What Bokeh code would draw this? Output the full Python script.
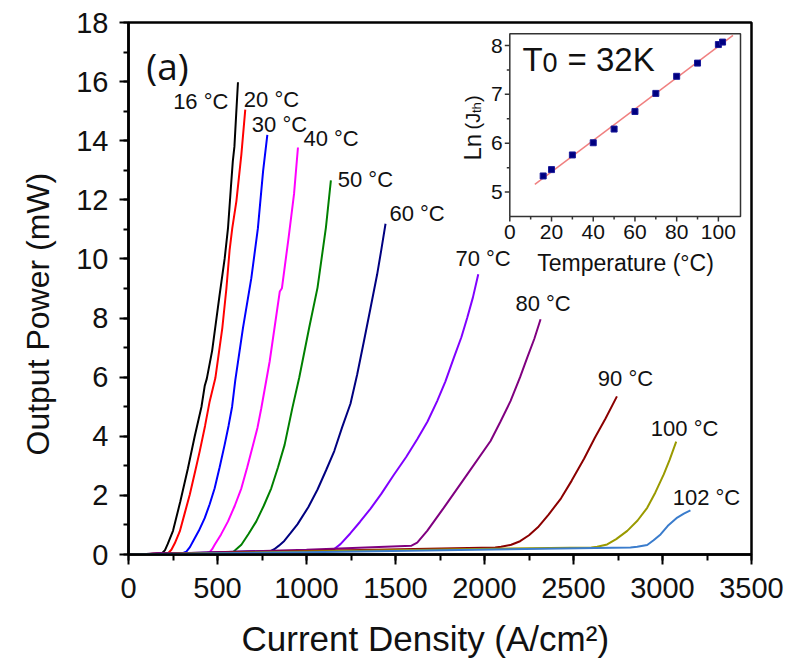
import numpy as np
from bokeh.plotting import figure
from bokeh.models import Range1d, SingleIntervalTicker, Title
from bokeh.core.properties import value
from bokeh.embed import file_html
from bokeh.resources import INLINE

# ---------------- data: L-I curves (current density in A/cm^2, output power in mW)
temps = [16, 20, 30, 40, 50, 60, 70, 80, 90, 100, 102]

j16 = [0, 100, 190, 205, 220, 250, 291, 334, 372, 410, 428, 440, 470, 512, 540, 559, 575, 586, 595, 605, 615]
p16 = [0, 0.02, 0.05, 0.15, 0.35, 0.8, 1.79, 2.92, 4.0, 5.0, 5.7, 5.95, 6.9, 8.79, 10.0, 11.04, 12.4, 13.3, 13.8, 14.9, 15.98]

j20 = [0, 120, 225, 241, 260, 288, 316, 344, 372, 400, 430, 456, 488, 527, 550, 568, 583, 606, 634, 656]
p20 = [0, 0.02, 0.06, 0.16, 0.38, 0.78, 1.4, 2.02, 2.75, 3.49, 4.35, 5.18, 5.97, 7.66, 9.0, 10.3, 11.04, 11.95, 13.53, 15.05]

j30 = [0, 150, 310, 325, 345, 362, 395, 428, 456, 484, 512, 540, 562, 582, 600, 643, 690, 727, 756, 780]
p30 = [0, 0.02, 0.06, 0.1, 0.25, 0.44, 0.8, 1.23, 1.7, 2.24, 2.95, 3.71, 4.35, 5.0, 5.9, 7.66, 9.35, 11.04, 12.96, 14.2]

j40 = [0, 200, 440, 456, 470, 484, 520, 559, 597, 634, 667, 700, 725, 746, 793, 850, 862, 900, 930, 952]
p40 = [0, 0.03, 0.05, 0.08, 0.18, 0.33, 0.68, 1.12, 1.65, 2.24, 2.95, 3.71, 4.3, 4.95, 6.53, 8.9, 9.01, 10.75, 12.2, 13.77]

j50 = [0, 250, 570, 587, 610, 634, 675, 718, 760, 802, 840, 877, 921, 959, 1015, 1062, 1109, 1137]
p50 = [0, 0.03, 0.05, 0.08, 0.2, 0.33, 0.7, 1.12, 1.65, 2.24, 2.95, 3.71, 4.97, 5.98, 7.67, 9.03, 11.06, 12.66]

j60 = [0, 300, 800, 819, 845, 875, 910, 949, 1010, 1062, 1110, 1156, 1200, 1247, 1285, 1322, 1360, 1397, 1420, 1444]
p60 = [0, 0.04, 0.12, 0.18, 0.3, 0.46, 0.72, 1.02, 1.6, 2.2, 2.85, 3.5, 4.3, 5.1, 6.1, 7.2, 8.35, 9.48, 10.3, 11.19]

j70 = [0, 400, 1130, 1154, 1191, 1247, 1300, 1360, 1420, 1491, 1560, 1622, 1680, 1734, 1780, 1828, 1870, 1903, 1935, 1965]
p70 = [0, 0.05, 0.14, 0.18, 0.35, 0.72, 1.1, 1.55, 2.05, 2.7, 3.3, 3.9, 4.5, 5.19, 5.85, 6.66, 7.35, 8.01, 8.7, 9.48]

j80 = [0, 500, 1000, 1590, 1622, 1678, 1771, 1903, 2034, 2090, 2146, 2200, 2240, 2280, 2315]
p80 = [0, 0.08, 0.16, 0.3, 0.4, 0.8, 1.58, 2.71, 3.84, 4.5, 5.19, 6.0, 6.66, 7.3, 7.96]

j90 = [0, 1000, 2060, 2093, 2150, 2200, 2250, 2300, 2360, 2430, 2490, 2560, 2620, 2680, 2744]
p90 = [0, 0.12, 0.24, 0.26, 0.33, 0.45, 0.65, 0.92, 1.35, 1.9, 2.5, 3.25, 3.95, 4.6, 5.35]

j100 = [0, 1000, 2600, 2633, 2689, 2740, 2802, 2860, 2914, 2960, 3007, 3040, 3077]
p100 = [0, 0.1, 0.24, 0.26, 0.34, 0.52, 0.8, 1.15, 1.58, 2.1, 2.71, 3.2, 3.82]

j102 = [0, 1000, 2820, 2858, 2914, 2950, 2989, 3030, 3083, 3120, 3157]
p102 = [0, 0.08, 0.24, 0.26, 0.32, 0.48, 0.68, 0.97, 1.25, 1.38, 1.49]

curves_j = [j16, j20, j30, j40, j50, j60, j70, j80, j90, j100, j102]
curves_p = [p16, p20, p30, p40, p50, p60, p70, p80, p90, p100, p102]
curve_labels = ["16 \u00b0C", "20 \u00b0C", "30 \u00b0C", "40 \u00b0C", "50 \u00b0C", "60 \u00b0C",
                "70 \u00b0C", "80 \u00b0C", "90 \u00b0C", "100 \u00b0C", "102 \u00b0C"]

# inset: ln(Jth) vs temperature
inset_temp = [16, 20, 30, 40, 50, 60, 70, 80, 90, 100, 102]
inset_lnj = [5.33, 5.46, 5.76, 6.01, 6.29, 6.65, 7.02, 7.37, 7.64, 8.02, 8.07]
fit_span = [12, 107]

x_ticks_major = 500
y_ticks_major = 2
inset_x_major = [0, 20, 40, 60, 80, 100]
inset_x_minor = [10, 30, 50, 70, 90]
inset_y_major = [5, 6, 7, 8]
inset_y_minor = [5.5, 6.5, 7.5]

# ---------------- styles / positions
colors = ["#000000", "#ff0000", "#0000ff", "#ff00ff", "#008000", "#000080",
          "#8000ff", "#800080", "#8b0000", "#9a9a00", "#3a7ccc"]
label_x = [406, 803, 848, 1138, 1331, 1621, 1992, 2329, 2792, 3124, 3247]
label_y = [15.34, 15.41, 14.56, 14.06, 12.69, 11.54, 10.0, 8.49, 5.94, 4.28, 1.93]

FONT = "Liberation Sans"
FRAME_W, FRAME_H = 623, 532
BORDER_L, BORDER_T = 128, 22
FRAME_LEFT = BORDER_L
FRAME_TOP = BORDER_T

p = figure(frame_width=FRAME_W, frame_height=FRAME_H,
           x_range=Range1d(0, 3500), y_range=Range1d(0, 18),
           output_backend="svg", toolbar_location=None, title=None,
           min_border_left=BORDER_L, min_border_top=BORDER_T,
           min_border_right=38, min_border_bottom=40)
p.background_fill_color = "white"
p.border_fill_color = "white"
p.outline_line_color = "black"
p.outline_line_width = 2.5
p.outline_line_alpha = 1.0
p.xgrid.visible = False
p.ygrid.visible = False

p.xaxis.ticker = SingleIntervalTicker(interval=x_ticks_major, num_minor_ticks=2)
p.yaxis.ticker = SingleIntervalTicker(interval=y_ticks_major, num_minor_ticks=2)
for ax in (p.xaxis, p.yaxis):
    ax.axis_line_width = 2.5
    ax.axis_line_color = "black"
    ax.major_tick_line_width = 2
    ax.minor_tick_line_width = 2
    ax.major_tick_in = 0
    ax.minor_tick_in = 0
    ax.major_label_text_font = FONT
    ax.major_label_text_font_size = "29px"
    ax.major_label_text_color = "#111111"
p.yaxis.major_tick_out = 9
p.yaxis.minor_tick_out = 5
p.yaxis.major_label_standoff = 11
p.xaxis.major_tick_out = 10
p.xaxis.minor_tick_out = 6
p.xaxis.major_label_standoff = 13

# axis titles
p.add_layout(Title(text="Current Density (A/cm\u00b2)", align="left", offset=113,
                   text_font=FONT, text_font_size="35px", text_font_style="normal",
                   text_color="#111111", standoff=33), "below")
p.add_layout(Title(text="Output Power (mW)", align="left", offset=99,
                   text_font=FONT, text_font_size="32px", text_font_style="normal",
                   text_color="#111111", standoff=35), "left")

# L-I curves
for j, pw, c in zip(curves_j, curves_p, colors):
    p.line(j, pw, line_color=c, line_width=2)

p.text(x=label_x, y=label_y, text=curve_labels, text_font=value(FONT),
       text_font_size="22px", text_align="center", text_baseline="middle",
       text_color="#111111")
p.text(x=[219], y=[16.56], text=["(a)"], text_font=value("Open Sans"),
       text_font_size="37px", text_align="center", text_baseline="middle",
       text_color="#111111")

# ---------------- inset, drawn on extra ranges
INSET_PAGE = (509.3, 740.0, 33.3, 216.0)   # left, right, top, bottom (page px)
INSET_XLIM = (0.0, 110.6)
INSET_YLIM = (4.5, 8.24)
sx = (INSET_PAGE[1] - INSET_PAGE[0]) / (INSET_XLIM[1] - INSET_XLIM[0])
sy = (INSET_PAGE[3] - INSET_PAGE[2]) / (INSET_YLIM[1] - INSET_YLIM[0])


def ix(px):
    return INSET_XLIM[0] + (px - INSET_PAGE[0]) / sx


def iy(py):
    return INSET_YLIM[0] + (INSET_PAGE[3] - py) / sy


p.extra_x_ranges = {"ix": Range1d(ix(FRAME_LEFT), ix(FRAME_LEFT + FRAME_W))}
p.extra_y_ranges = {"iy": Range1d(iy(FRAME_TOP + FRAME_H), iy(FRAME_TOP))}
R = dict(x_range_name="ix", y_range_name="iy")

p.quad(left=[INSET_XLIM[0]], right=[INSET_XLIM[1]], bottom=[INSET_YLIM[0]], top=[INSET_YLIM[1]],
       fill_color="white", line_color="#333333", line_width=1.5, **R)

y0 = INSET_YLIM[0]
x0 = INSET_XLIM[0]
p.segment(x0=inset_x_major, x1=inset_x_major, y0=[y0] * len(inset_x_major),
          y1=[y0 - 5 / sy] * len(inset_x_major), line_color="#333333", line_width=1.5, **R)
p.segment(x0=inset_x_minor, x1=inset_x_minor, y0=[y0] * len(inset_x_minor),
          y1=[y0 - 3 / sy] * len(inset_x_minor), line_color="#333333", line_width=1.5, **R)
p.segment(x0=[x0] * len(inset_y_major), x1=[x0 - 5 / sx] * len(inset_y_major),
          y0=inset_y_major, y1=inset_y_major, line_color="#333333", line_width=1.5, **R)
p.segment(x0=[x0] * len(inset_y_minor), x1=[x0 - 3 / sx] * len(inset_y_minor),
          y0=inset_y_minor, y1=inset_y_minor, line_color="#333333", line_width=1.5, **R)

p.text(x=inset_x_major, y=[y0 - 8 / sy] * len(inset_x_major),
       text=[str(v) for v in inset_x_major], text_font=value(FONT), text_font_size="21px",
       text_align="center", text_baseline="top", text_color="#111111", **R)
p.text(x=[x0 - 7 / sx] * len(inset_y_major), y=inset_y_major,
       text=[str(v) for v in inset_y_major], text_font=value(FONT), text_font_size="21px",
       text_align="right", text_baseline="middle", text_color="#111111", **R)

p.text(x=[ix(625)], y=[iy(262)], text=["Temperature (\u00b0C)"], text_font=value(FONT),
       text_font_size="23px", text_align="center", text_baseline="middle",
       text_color="#111111", **R)

# rotated "Ln (Jth)"
for txt, bx, by, fs in [("Ln", 472, 160, "24px"), ("(J", 472, 129, "20px"),
                        ("th", 476, 112.5, "13px"), (")", 472, 101.5, "20px")]:
    p.text(x=[ix(bx)], y=[iy(by)], text=[txt], angle=np.pi / 2, text_font=value(FONT),
           text_font_size=fs, text_align="left", text_baseline="alphabetic",
           text_color="#111111", **R)

# T0 = 32K (anchored at the vertical middle of the glyphs)
for txt, bx, by, fs in [("T", 522, 58.5, "33px"), ("0", 542, 62.0, "27px"),
                        ("= 32K", 567, 58.5, "33px")]:
    p.text(x=[ix(bx)], y=[iy(by)], text=[txt], text_font=value(FONT), text_font_size=fs,
           text_align="left", text_baseline="middle", text_color="#111111", **R)

coef = np.polyfit(inset_temp, inset_lnj, 1)
fx = np.array(fit_span, dtype=float)
p.line(fx, np.polyval(coef, fx), line_color="#f08080", line_width=1.5, **R)
p.scatter(inset_temp, inset_lnj, marker="square", size=6, fill_color="#000080",
          line_color="#1a1a9a", **R)

open("out.html", "w").write(file_html(p, INLINE))
